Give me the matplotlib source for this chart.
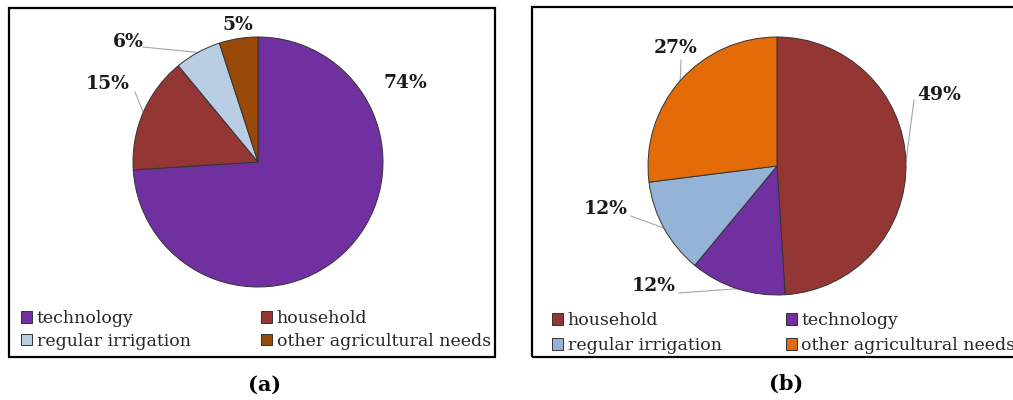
import matplotlib
matplotlib.use("Agg")
import matplotlib.pyplot as plt
from matplotlib.patches import Rectangle
import numpy as np

plt.rcParams['font.family'] = ['DejaVu Serif']

# ---- data ----
cats_a = ["technology", "household", "regular irrigation", "other agricultural needs"]
vals_a = [74, 15, 6, 5]
labels_a = ["74%", "15%", "6%", "5%"]
colors_a = ["#7030A0", "#943634", "#B9CDE5", "#984807"]

cats_b = ["household", "technology", "regular irrigation", "other agricultural needs"]
vals_b = [49, 12, 12, 27]
labels_b = ["49%", "12%", "12%", "27%"]
colors_b = ["#943634", "#7030A0", "#95B3D7", "#E36C09"]

captions = ["(a)", "(b)"]

W, H = 1013, 400
fig = plt.figure(figsize=(W / 100, H / 100), dpi=100)
ax = fig.add_axes([0, 0, 1, 1])


def py(y):
    return H - y


def draw_pie(vals, colors, center_px, radius, labels, label_pos, leader_from):
    wedges, _ = ax.pie(vals, colors=colors, startangle=90, counterclock=False,
                       center=(center_px[0], py(center_px[1])), radius=radius,
                       wedgeprops=dict(edgecolor="#333333", linewidth=0.7))
    for w, lab, pos, lf in zip(wedges, labels, label_pos, leader_from):
        ax.text(pos[0], py(pos[1]), lab, ha="center", va="center",
                fontsize=13.5, fontweight="bold", color="#1a1a1a")
        if lf is not None:
            mid = np.deg2rad((w.theta1 + w.theta2) / 2)
            cx, cy = w.center
            ex = cx + w.r * np.cos(mid)
            ey = cy + w.r * np.sin(mid)
            ax.plot([lf[0], ex], [py(lf[1]), ey], color="#a6a6a6", lw=0.8, zorder=0.5)
    return wedges


# panel a
wa = draw_pie(vals_a, colors_a, (258, 162), 125, labels_a,
              [(405, 83), (108, 84), (128, 42), (238, 25)],
              [None, (135, 92), (143, 47), None])
# panel b
wb = draw_pie(vals_b, colors_b, (777, 166), 129, labels_b,
              [(939, 95), (654, 286), (606, 209), (676, 48)],
              [(914, 100), (679, 293), (631, 216), (681, 60)])

ax.set_xlim(0, W)
ax.set_ylim(0, H)
ax.set_aspect("auto")
ax.axis("off")

# boxes
ax.add_patch(Rectangle((9, py(357)), 486, 349, fill=False, lw=1.6, edgecolor="black", zorder=5))
ax.add_patch(Rectangle((532, py(357)), 520, 350, fill=False, lw=1.6, edgecolor="black", zorder=5, clip_on=False))


# legends
def legend(wedges, cats, anchor_px, colspace, lspace):
    order = [0, 2, 1, 3]
    leg = ax.legend([wedges[i] for i in order], [cats[i] for i in order], ncol=2,
                    loc="upper left", bbox_to_anchor=(anchor_px[0] / W, 1 - anchor_px[1] / H),
                    bbox_transform=fig.transFigure, frameon=False, fontsize=12.5,
                    handlelength=0.65, handleheight=0.65, handletextpad=0.25,
                    columnspacing=colspace, labelspacing=lspace, borderpad=0, borderaxespad=0,
                    labelcolor="#262626")
    for h in leg.legend_handles:
        h.set_edgecolor("#333333")
        h.set_linewidth(0.7)
    return leg


la = legend(wa, cats_a, (21, 310), 4.05, 0.32)
ax.add_artist(la)
lb = legend(wb, cats_b, (552, 312), 3.7, 0.45)

fig.text(265 / W, 1 - 385 / H, captions[0], ha="center", va="center", fontsize=15, fontweight="bold")
fig.text(786 / W, 1 - 384 / H, captions[1], ha="center", va="center", fontsize=15, fontweight="bold")

fig.savefig("out.png", dpi=100)
